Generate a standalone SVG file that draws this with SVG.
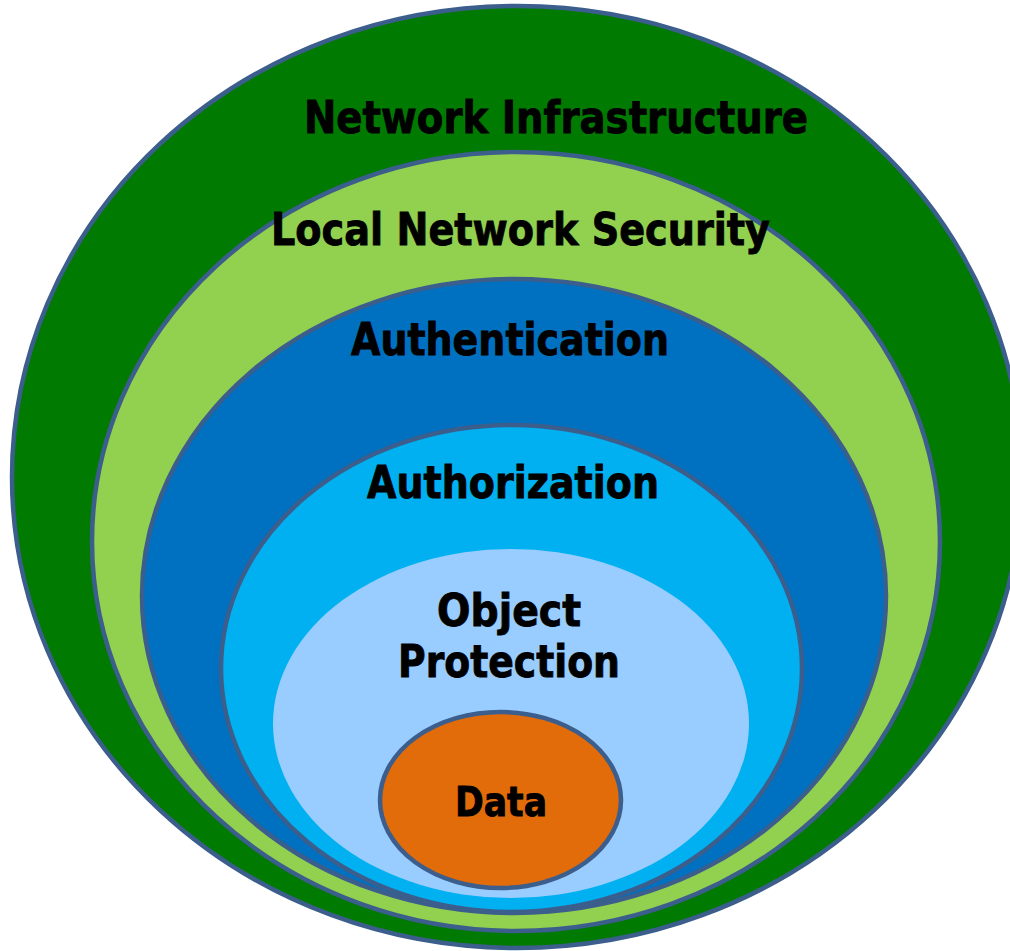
<svg xmlns="http://www.w3.org/2000/svg" width="1010" height="951" viewBox="0 0 1010 951">
  <style>
    .ring { stroke: #3B5E8C; stroke-width: 4.5; }
    .lbl { font-family: "DejaVu Sans", Verdana, sans-serif; font-weight: bold; font-size: 44px; fill: #000000; stroke: #000000; stroke-width: 0.9; }
  </style>
  <rect x="0" y="0" width="1010" height="951" fill="#FFFFFF"/>
  <g id="network-infrastructure">
    <ellipse class="ring" cx="517" cy="477" rx="505" ry="471" fill="#007A00"/>
    <text class="lbl" x="304" y="133" textLength="504" lengthAdjust="spacingAndGlyphs">Network Infrastructure</text>
  </g>
  <g id="local-network-security">
    <ellipse class="ring" cx="516" cy="541.5" rx="424" ry="389.5" fill="#92D050"/>
    <text class="lbl" x="271" y="245" textLength="499" lengthAdjust="spacingAndGlyphs">Local Network Security</text>
  </g>
  <g id="authentication">
    <ellipse class="ring" cx="514" cy="596" rx="372" ry="317" fill="#0070C0"/>
    <text class="lbl" x="351" y="355" textLength="318" lengthAdjust="spacingAndGlyphs">Authentication</text>
  </g>
  <g id="authorization">
    <ellipse class="ring" cx="511.5" cy="668.5" rx="290.5" ry="243.5" fill="#00B0F0"/>
    <text class="lbl" x="367" y="498" textLength="292" lengthAdjust="spacingAndGlyphs">Authorization</text>
  </g>
  <g id="object-protection">
    <ellipse cx="511" cy="723.5" rx="238" ry="174.5" fill="#99CCFF"/>
    <text class="lbl" x="437" y="626" textLength="144" lengthAdjust="spacingAndGlyphs">Object</text>
    <text class="lbl" x="398" y="677" textLength="222" lengthAdjust="spacingAndGlyphs">Protection</text>
  </g>
  <g id="data">
    <ellipse class="ring" cx="500.5" cy="800" rx="120.5" ry="88" fill="#E36C0A"/>
    <text class="lbl" x="455" y="816" textLength="92" lengthAdjust="spacingAndGlyphs" style="font-size:40px">Data</text>
  </g>
  <g id="connectors"></g>
</svg>
